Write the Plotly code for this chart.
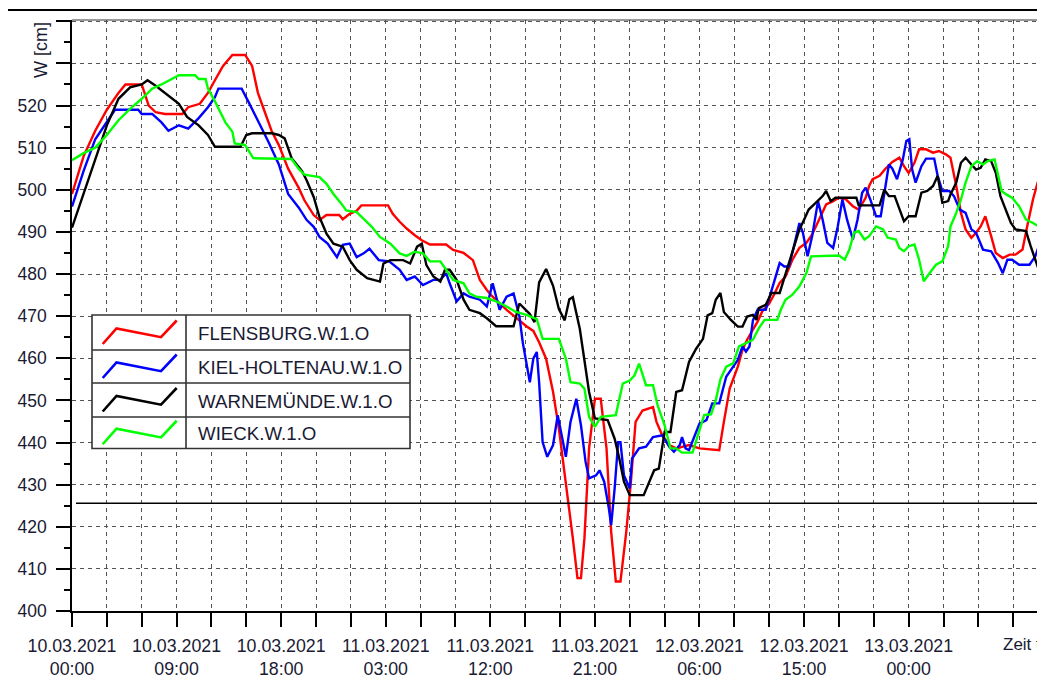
import pandas as pd
import plotly.graph_objects as go

# ---------------- data (hours after 10.03.2021 00:00, water level cm) ----------------
BASE = pd.Timestamp("2021-03-10 00:00")

FLENSBURG = [(0,499),(1,508),(2,514),(3,519),(4,523),(4.6,525),(6,525),(6.6,520),(7.2,518.4),(8,518),(9.5,518),(10,519.6),(11,520.4),(11.7,523),(12.3,526),(13,529.4),(13.8,532),(14.9,532),(15.5,529.4),(16,523),(16.6,518.4),(17.2,513.8),(17.8,510.6),(18.6,505),(19.5,500.5),(20,497.5),(20.8,494),(21.3,492.8),(21.9,494),(23,494),(23.3,493),(23.9,494.3),(24.5,495),(24.9,496.3),(27.2,496.3),(27.6,494.3),(28.2,492.4),(28.8,490.8),(29.5,489.2),(30.1,488),(30.8,487),(32.2,487),(32.8,485.7),(33.7,485),(34.5,483.3),(35.1,478.6),(35.7,476.2),(36.2,474.6),(37.4,471.5),(38.5,469),(39.1,467.6),(39.7,466.5),(40.2,463.8),(40.8,459.9),(41.4,452),(41.9,443.3),(42.5,430.7),(43.1,417.3),(43.5,407.8),(43.8,407.8),(44.1,417.3),(44.5,438.6),(45,450.4),(45.5,450.4),(46,438.6),(46.4,418.8),(46.8,407),(47.2,407),(47.7,418.8),(48.1,430.7),(48.5,444.9),(49.1,447.6),(50,448.4),(50.3,444.9),(50.8,441.7),(51.4,439.4),(52,438.6),(53.1,439.4),(54,438.6),(55.7,438.2),(56.1,444.9),(56.6,452.8),(57.3,458),(57.7,462),(58.1,464.4),(58.6,466.7),(59,468.7),(59.4,471.1),(60,473),(60.4,475),(60.9,477.9),(61.4,479.4),(62,483.4),(62.6,486.2),(63.2,487.4),(63.7,489.4),(64.3,492.9),(64.9,496.5),(65.5,497.3),(66,498.1),(66.6,497.7),(67.2,496.1),(67.7,495.3),(68.3,498.1),(68.6,500.9),(68.9,502.5),(69.5,503.3),(70,505),(70.6,506.6),(71.2,507.6),(71.6,505.6),(72,504),(72.5,506.4),(72.9,509.6),(73.5,509.6),(74.1,508.8),(74.6,509.2),(75.2,508.4),(75.6,507.6),(76.1,500.9),(76.5,494.5),(76.9,490.6),(77.4,488.6),(77.8,489.8),(78.2,491.3),(78.6,493.7),(79.1,489),(79.5,485),(80.1,483.8),(80.7,484.6),(81.2,484.6),(81.8,485.8),(82.2,491.3),(82.7,497.7),(83.1,501.7),(83.5,504),(84,506)]

KIEL = [(0,496),(1,504.5),(2,512),(3,516),(3.7,519),(5.7,519),(6,518),(6.9,518),(7.7,516),(8.3,514),(9.2,515.3),(10,514.5),(10.9,517),(11.7,519.6),(12.3,522),(12.6,524),(14.6,524),(15.2,520.8),(16,516.5),(16.9,511.4),(17.8,506),(18.6,499),(19.5,495.8),(20.2,492.8),(20.8,491.2),(21.3,488.8),(22,487.2),(22.8,484),(23.3,486.9),(23.9,487.2),(24.5,484),(25.1,484.9),(25.6,486),(26.4,483.3),(27.3,483),(28.2,481),(28.8,478.6),(29.5,479.4),(30.2,477.4),(31.1,478.6),(31.7,478.6),(32.2,480.2),(32.5,477.8),(33.1,473.5),(33.7,475.4),(34.2,474.6),(35.1,473.9),(35.7,472.3),(36.2,477.8),(36.8,471.5),(37.4,474.6),(38,475.4),(38.5,470),(38.8,463.6),(39.4,454.3),(39.7,459.9),(40,461.5),(40.2,454.3),(40.5,440.1),(40.9,436.6),(41.4,439.4),(41.8,446.5),(42.2,440.9),(42.5,436.6),(42.9,444.9),(43.4,450.4),(43.8,444.1),(44.2,435.4),(44.5,431.5),(45.1,432.2),(45.4,433.4),(45.8,430.7),(46.2,424.4),(46.4,420.4),(46.7,429.1),(47,440.1),(47.2,440.1),(47.5,432.2),(48,429.1),(48.2,436.2),(48.8,438.6),(49.4,439),(50,441.3),(50.8,441.7),(51.4,439),(51.8,437.8),(52.3,439.4),(52.5,441.3),(52.8,438.6),(53.1,438.2),(53.5,441),(54,444.5),(54.6,445.3),(55.1,449.3),(55.7,449.3),(56.3,455.6),(56.9,458),(57.3,459.6),(57.7,462.8),(58,461.6),(58.3,462.8),(58.6,469),(59,471.5),(59.7,471.5),(60.3,477),(60.9,482.6),(61.3,481.8),(61.7,481.8),(62.2,487.4),(62.6,492.1),(62.9,489.8),(63.3,484.2),(63.7,489),(64.2,497.3),(64.6,492.9),(65,487.4),(65.5,486.2),(65.9,491.3),(66.3,497.7),(66.7,492.9),(67.2,488.2),(67.6,492.9),(68,499.3),(68.3,500.5),(68.7,497.7),(69.2,493.7),(69.6,493.7),(70,501),(70.3,506),(70.6,505),(71,502.5),(71.5,507.2),(71.8,511.6),(72.06,512),(72.3,504.8),(72.6,501.7),(73.1,505.6),(73.5,507.4),(74.2,507.4),(74.5,503.3),(74.9,499.7),(75.5,499.7),(75.9,498.5),(76.4,495.3),(76.9,494.5),(77.4,490.6),(77.8,489.8),(78.4,485.8),(79.1,485.4),(79.7,482.6),(80.1,480.2),(80.5,483.4),(80.9,483.4),(81.5,482.2),(82.4,482.2),(82.9,484.2),(83.2,486.6),(83.7,487.4),(84,487.4)]

WARNEMUENDE = [(0,491),(1,499),(2,507.5),(3,515.3),(4,521.6),(5,524.3),(6,525),(6.5,526),(7.2,524.7),(8,523),(8.6,521.6),(9.2,520.4),(9.9,517.3),(10.9,515.3),(11.7,513),(12.3,510.2),(14.5,510.2),(15,513),(15.5,513.4),(17.2,513.4),(17.8,513),(18.3,512.2),(18.9,507.5),(19.8,504.4),(20.2,502.2),(20.8,498.3),(21.3,493.5),(21.9,489.6),(22.5,487.2),(23.3,486.5),(23.9,483.3),(24.5,481),(25.4,479),(26.5,478.2),(26.8,482.5),(27.4,483.3),(28.5,483.3),(29.1,482.5),(29.7,486.5),(30.1,487.2),(30.5,482.1),(31.1,479.4),(31.7,478.2),(32.1,481),(32.5,481),(33.1,478.6),(33.7,473.9),(34.2,471.5),(35.1,470.7),(35.7,469.5),(36.5,467.6),(38,467.6),(38.5,473),(39.4,470.5),(39.8,468.6),(40.2,478),(40.8,481.2),(41.4,477.2),(41.9,471.7),(42.4,469),(42.8,474),(43.1,474.5),(43.7,467),(44.1,459.9),(44.5,452),(45,445.7),(46.1,445.3),(46.7,440.9),(47.1,436.2),(47.5,430.7),(48,427.5),(49.2,427.5),(49.7,430.7),(50.1,433.4),(50.5,433.8),(51,442.5),(51.5,442.5),(52,452),(52.5,452.4),(53.1,459.1),(53.7,462.2),(54.3,464.6),(54.7,470.2),(55.1,470.7),(55.4,473.9),(55.8,475.5),(56.1,471),(56.7,469.1),(57.3,467.5),(57.7,467.5),(58.1,469.9),(58.6,470.3),(58.9,469.1),(59.1,471.9),(59.7,472.7),(60.2,475.5),(60.9,475.5),(61.3,479),(61.7,482.6),(62.2,486.6),(62.6,490.6),(63,492.9),(63.4,495.3),(64,496.9),(64.6,498.5),(64.9,499.7),(65.3,497.3),(65.7,498.1),(67.5,498.1),(67.7,496.3),(69.5,496.3),(69.9,500),(70.3,498.5),(70.8,498.5),(71.2,495.3),(71.6,492.5),(72,493.7),(72.6,493.7),(73.1,499.3),(73.6,499.7),(74.1,500.9),(74.5,503.3),(74.9,496.9),(75.4,497.3),(75.6,498.9),(76.1,501.7),(76.5,506.4),(76.9,507.6),(77.4,506),(77.8,504.8),(78.2,505.2),(78.6,507.2),(79.1,506.8),(79.5,504),(79.9,498.5),(80.4,494.9),(80.8,492.1),(81.2,490.6),(82.1,490.2),(82.5,486.6),(82.9,483.4),(83.4,479.4),(83.7,476.3),(84,473)]

WIECK = [(0,507),(1,508.7),(2,510),(3,513),(4,516.5),(5,519.2),(6,521.6),(6.9,524),(7.7,525),(8.6,526.3),(9.2,527.2),(10.6,527.2),(10.9,526.3),(11.5,526.3),(11.7,524),(12.3,521),(13.2,516),(13.8,513.8),(14,511),(14.9,510.6),(15.6,507.5),(18.9,507.3),(19.5,505),(20,503.6),(21.3,503),(21.9,501.4),(22.5,499),(23.1,497),(23.6,495.1),(24.5,494.7),(25.1,493),(25.8,491.2),(26.5,488.8),(27.4,487.2),(28.2,484.9),(28.8,484.3),(29.5,485.3),(30.2,484.9),(30.8,483),(31.7,483),(32.2,481),(32.8,478.6),(33.7,477.8),(34.2,475.4),(34.8,474.6),(35.7,474.3),(36.5,473.5),(37.4,472.3),(38.2,471),(39.1,470.3),(40,469.3),(40.5,464.6),(41.9,464.6),(42.5,459.9),(42.9,454.3),(43.7,454),(44.1,452.8),(44.5,446.1),(45,443.7),(45.5,446.1),(46.8,446.5),(47.4,454),(48,454.7),(48.4,455.9),(48.8,458.7),(49.4,453.6),(50,453.6),(50.4,448.8),(51,444.1),(51.5,438.6),(52,438.6),(52.5,437.6),(53.4,437.6),(54,443),(54.4,446.5),(55,446.7),(55.4,450),(55.8,455),(56.3,458),(56.9,458.8),(57.4,462.8),(58,463.6),(58.6,464.4),(59.1,467.1),(59.6,469.1),(60.7,469.1),(61,471.5),(61.4,473.9),(62,475.1),(62.6,477.1),(63.2,480.2),(63.6,484.2),(66,484.4),(66.5,483.4),(66.9,485.8),(67.3,489.8),(67.7,490.2),(68.2,488.2),(68.6,489),(69.2,491.3),(69.8,490.6),(70.2,488.6),(70.9,488.2),(71.2,486.2),(71.6,485.4),(72,486.6),(72.5,487),(72.9,483.4),(73.3,478.3),(73.8,480.2),(74.35,482.2),(74.9,483),(75.4,486.6),(75.6,491.3),(76.1,494.5),(76.5,497.7),(76.9,501.7),(77.4,505.6),(77.9,506.8),(78.4,506),(78.8,506.8),(79.4,507.2),(79.7,503.3),(80,499.7),(80.4,498.9),(80.9,498.1),(81.5,496.1),(82.1,492.9),(82.7,492.1),(83.2,491.3),(83.7,489.4),(84,488)]

SERIES = [FLENSBURG, KIEL, WARNEMUENDE, WIECK]
NAMES = ["FLENSBURG.W.1.O", "KIEL-HOLTENAU.W.1.O", "WARNEMÜNDE.W.1.O", "WIECK.W.1.O"]
COLORS = ["#ff0000", "#0000ff", "#000000", "#00ff00"]
THRESHOLD = 425.6
X_TICK_HOURS = list(range(0, 82, 3))
Y_TICKS = list(range(400, 541, 10))
Y_TITLE = "W [cm]"
X_TITLE = "Zeit t"

FONT = "Liberation Sans, Arial, sans-serif"
TXT = "#1a1a33"

# ---------------- geometry (page pixels; page body has an 8px margin) ----------------
OFF = 8
W_PX, H_PX = 1045 - OFF, 686 - OFF
L, T, PW, PH = 72, 20, 973, 591       # plot area in page pixels


def px(x):
    return (x - L) / PW


def py(y):
    return (T + PH - y) / PH


def hours(h):
    return BASE + pd.to_timedelta(h, unit="h")


fig = go.Figure()
for data, name, col in zip(SERIES, NAMES, COLORS):
    t = [hours(p[0]) for p in data]
    v = [p[1] for p in data]
    fig.add_trace(go.Scatter(x=t, y=v, mode="lines", name=name,
                             line=dict(color=col, width=2.4), showlegend=False))

x_tickvals = [hours(h) for h in X_TICK_HOURS]
x_ticktext = [hours(h).strftime("%d.%m.%Y<br>%H:%M") if (h % 9 == 0 and h <= 72) else ""
              for h in X_TICK_HOURS]
y_ticktext = [str(v) if v <= 520 else "" for v in Y_TICKS]

shapes = []
# outer frame
shapes.append(dict(type="rect", xref="paper", yref="paper",
                   x0=px(7), x1=px(1100), y0=py(720), y1=py(10),
                   line=dict(color="black", width=2), fillcolor="rgba(0,0,0,0)", layer="above"))
# top border of plot area
shapes.append(dict(type="line", xref="paper", yref="paper", x0=0, x1=1, y0=1, y1=1,
                   line=dict(color="#333333", width=1)))
# threshold line
shapes.append(dict(type="line", xref="paper", yref="y", x0=px(76), x1=1,
                   y0=THRESHOLD, y1=THRESHOLD, line=dict(color="black", width=1.5)))

# legend box
lx0, lx1, ldiv = 92, 410, 186
rows = [315, 350, 383, 417, 448.5]
shapes.append(dict(type="rect", xref="paper", yref="paper",
                   x0=px(lx0), x1=px(lx1), y0=py(rows[-1]), y1=py(rows[0]),
                   line=dict(color="#333333", width=1.6), fillcolor="white", layer="above"))
for r in rows[1:-1]:
    shapes.append(dict(type="line", xref="paper", yref="paper", x0=px(lx0), x1=px(lx1),
                       y0=py(r), y1=py(r), line=dict(color="#333333", width=1.6)))
shapes.append(dict(type="line", xref="paper", yref="paper", x0=px(ldiv), x1=px(ldiv),
                   y0=py(rows[-1]), y1=py(rows[0]), line=dict(color="#333333", width=1.6)))

annotations = []
sym = [(102.7, 11.5), (116.5, -4), (161, 4.7), (176.7, -12)]
for i, (name, col) in enumerate(zip(NAMES, COLORS)):
    cy = (rows[i] + rows[i + 1]) / 2
    path = "M " + " L ".join(f"{px(sx):.5f},{py(cy + dy):.5f}" for sx, dy in sym)
    shapes.append(dict(type="path", xref="paper", yref="paper", path=path,
                       line=dict(color=col, width=2.6)))
    annotations.append(dict(xref="paper", yref="paper", x=px(196), y=py(cy + 1),
                            text=name, showarrow=False, xanchor="left", yanchor="middle",
                            font=dict(family=FONT, size=18.7, color=TXT)))

annotations.append(dict(xref="paper", yref="paper", x=px(41), y=py(50), text=Y_TITLE,
                        textangle=-90, showarrow=False, xanchor="center", yanchor="middle",
                        font=dict(family=FONT, size=18, color=TXT)))
annotations.append(dict(xref="paper", yref="paper", x=px(1001), y=py(644), text=X_TITLE,
                        showarrow=False, xanchor="left", yanchor="middle",
                        font=dict(family=FONT, size=17, color=TXT)))

grid_kw = dict(showgrid=True, gridcolor="#555555", gridwidth=1, griddash="4px,4px")

fig.update_layout(
    width=W_PX, height=H_PX,
    margin=dict(l=L - OFF, r=W_PX - (L - OFF) - PW, t=T - OFF,
                b=H_PX - (T - OFF) - PH, pad=0),
    paper_bgcolor="white", plot_bgcolor="white",
    font=dict(family=FONT, size=17.5, color=TXT),
    shapes=shapes, annotations=annotations,
    xaxis=dict(range=[hours(0), hours((1045 - L) / 11.62)],
               tickmode="array", tickvals=x_tickvals, ticktext=x_ticktext,
               ticks="outside", ticklen=14, tickwidth=1.5, tickcolor="black",
               showline=True, linecolor="black", linewidth=1.5,
               zeroline=False, tickfont=dict(size=17.8, color=TXT, family=FONT),
               ticklabelstandoff=4, **grid_kw),
    yaxis=dict(range=[400, 540.3], tickmode="array", tickvals=Y_TICKS, ticktext=y_ticktext,
               ticks="outside", ticklen=14, tickwidth=1.5, tickcolor="black",
               showline=True, linecolor="black", linewidth=1.5, zeroline=False,
               tickfont=dict(size=17.5, color=TXT, family=FONT), ticklabelstandoff=6,
               minor=dict(tickmode="linear", tick0=405, dtick=10, ticks="outside",
                          ticklen=6, tickwidth=1.5, tickcolor="black", showgrid=False),
               **grid_kw),
)

fig.write_html("out.html")
